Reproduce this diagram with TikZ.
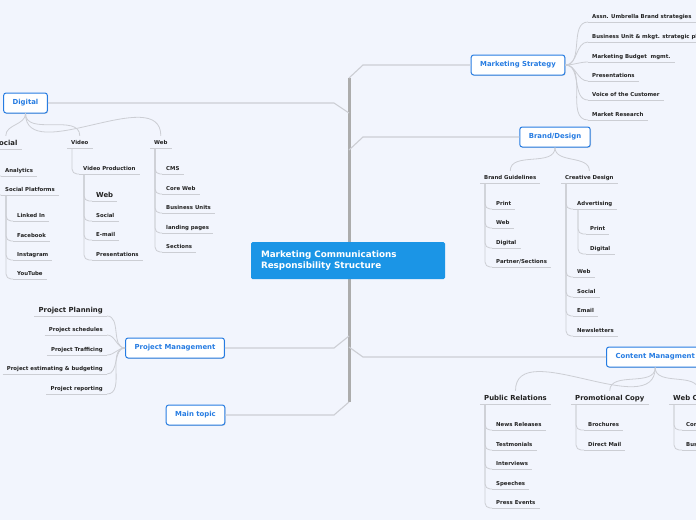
\documentclass[tikz,border=0pt]{standalone}
\usepackage{fontspec}
\setmainfont{DejaVu Sans}
\usetikzlibrary{shadows}
\definecolor{bgblue}{RGB}{242,245,253}
\definecolor{topicblue}{RGB}{38,124,226}
\definecolor{rootblue}{RGB}{27,149,230}
\definecolor{linegray}{RGB}{204,206,212}
\definecolor{spinegray}{RGB}{172,172,172}
\definecolor{ink}{RGB}{34,34,34}
\tikzset{
  topic/.style={draw=topicblue, line width=1pt, fill=white, rounded corners=2.5pt,
    text=topicblue, font=\fontsize{6.9}{8}\selectfont\bfseries, inner xsep=9pt,
    minimum height=20pt, drop shadow={shadow xshift=.8pt, shadow yshift=-.8pt, opacity=.25}},
  root/.style={fill=rootblue, rounded corners=1.5pt, text=white, align=left,
    font=\fontsize{8.8}{11}\selectfont\bfseries, text width=174pt, inner xsep=10pt,
    minimum height=37pt},
  leaf/.style={anchor=south west, text=ink, font=\fontsize{5.4}{6}\selectfont\bfseries,
    text depth=0pt, inner xsep=4pt, inner ysep=3.8pt,
    append after command={(\tikzlastnode.south west) edge[uline] (\tikzlastnode.south east)}},
  sub/.style={leaf, font=\fontsize{6.9}{8}\selectfont\bfseries},
  uline/.style={draw=linegray, line width=.8pt},
  conn/.style={draw=linegray, line width=.8pt, rounded corners=5pt},
  branch/.style={draw=linegray, line width=1.1pt},
  spine/.style={draw=spinegray, line width=3pt}
}
\begin{document}
\begin{tikzpicture}[x=1pt,y=-1pt]
\fill[bgblue] (0,0) rectangle (696,520);
\clip (0,0) rectangle (696,520);

% spine
\coordinate (b1) at (349,78);
\coordinate (b2) at (349,113);
\coordinate (b3) at (349,150);
\coordinate (b4) at (349,336);
\coordinate (b5) at (349,347);
\coordinate (b6) at (349,402);
\draw[spine] (b1) -- (b6);

% main topics
\node[topic] (ms) at (518,65) {Marketing Strategy};
\node[topic] (dg) at (25.5,103) {Digital};
\node[topic] (bd) at (555,137) {Brand/Design};
\node[topic] (pm) at (175,348) {Project Management};
\node[topic] (mt) at (195.5,415) {Main topic};
\node[topic, anchor=west] (cm) at (606,357) {Content Managment};

\draw[branch] (b1) -- ++(14,-13) -- (ms.west);
\draw[branch] (b2) -- ++(-15,-10) -- (dg.east);
\draw[branch] (b3) -- ++(14,-13) -- (bd.west);
\draw[branch] (b4) -- ++(-15,12) -- (pm.east);
\draw[branch] (b5) -- ++(14,10) -- (cm.west);
\draw[branch] (b6) -- ++(-15,13) -- (mt.east);

\node[root] (root) at (348,260.5) {Marketing Communications\\Responsibility Structure};

% marketing strategy
\node[leaf] (ms1) at (588,22) {Assn. Umbrella Brand strategies};
\node[leaf] (ms2) at (588,42) {Business Unit \& mkgt. strategic planning};
\node[leaf] (ms3) at (588,62) {Marketing Budget~ mgmt.};
\node[leaf] (ms4) at (588,81) {Presentations};
\node[leaf] (ms5) at (588,100) {Voice of the Customer};
\node[leaf] (ms6) at (588,120) {Market Research};
\foreach \n in {ms1,ms2,ms3,ms4,ms5,ms6}
  \draw[conn] (ms.east) to[out=0,in=180] (\n.south west);

% brand / design
\node[leaf] (bg) at (480,183) {Brand Guidelines};
\node[leaf] (bg1) at (492,209) {Print};
\node[leaf] (bg2) at (492,228) {Web};
\node[leaf] (bg3) at (492,248) {Digital};
\node[leaf] (bg4) at (492,267) {Partner/Sections};
\node[leaf] (cd) at (561,183) {Creative Design};
\node[leaf] (cd1) at (573,209) {Advertising};
\node[leaf] (cd1a) at (586,234) {Print};
\node[leaf] (cd1b) at (586,254) {Digital};
\node[leaf] (cd2) at (573,277) {Web};
\node[leaf] (cd3) at (573,297) {Social};
\node[leaf] (cd4) at (573,316) {Email};
\node[leaf] (cd5) at (573,336) {Newsletters};
\draw[conn] (bd.south) to[out=-90,in=90] (bg.north);
\draw[conn] (bd.south) to[out=-90,in=90] (cd.north);
\foreach \n in {bg1,bg2,bg3,bg4}
  \draw[conn] ([xshift=5pt]bg.south west) |- (\n.south west);
\foreach \n in {cd1,cd2,cd3,cd4,cd5}
  \draw[conn] ([xshift=5pt]cd.south west) |- (\n.south west);
\foreach \n in {cd1a,cd1b}
  \draw[conn] ([xshift=5pt]cd1.south west) |- (\n.south west);

% content managment
\node[sub] (pr) at (480,404) {Public Relations};
\node[leaf] (pr1) at (492,430) {News Releases};
\node[leaf] (pr2) at (492,450) {Testmonials};
\node[leaf] (pr3) at (492,469) {Interviews};
\node[leaf] (pr4) at (492,489) {Speeches};
\node[leaf] (pr5) at (492,508) {Press Events};
\node[sub] (pc) at (571,404) {Promotional Copy};
\node[leaf] (pc1) at (584,430) {Brochures};
\node[leaf] (pc2) at (584,450) {Direct Mail};
\node[sub] (wc) at (669,404) {Web Content};
\node[leaf] (wc1) at (682,430) {Corporate};
\node[leaf] (wc2) at (682,450) {Business Units};
\foreach \n in {pr,pc,wc}
  \draw[conn] (cm.south) to[out=-90,in=90] (\n.north);
\foreach \n in {pr1,pr2,pr3,pr4,pr5}
  \draw[conn] ([xshift=5pt]pr.south west) |- (\n.south west);
\foreach \n in {pc1,pc2}
  \draw[conn] ([xshift=5pt]pc.south west) |- (\n.south west);
\foreach \n in {wc1,wc2}
  \draw[conn] ([xshift=5pt]wc.south west) |- (\n.south west);

% project management
\node[sub, anchor=south east] (pm1) at (107,316) {Project Planning};
\node[leaf, anchor=south east] (pm2) at (107,335) {Project schedules};
\node[leaf, anchor=south east] (pm3) at (107,355) {Project Trafficing};
\node[leaf, anchor=south east] (pm4) at (107,374) {Project estimating \& budgeting};
\node[leaf, anchor=south east] (pm5) at (107,394) {Project reporting};
\foreach \n in {pm1,pm2,pm3,pm4,pm5}
  \draw[conn] (pm.west) to[out=180,in=0] (\n.south east);

% digital
\node[sub] (so) at (-10,149) {Social};
\node[leaf] (so1) at (1,176) {Analytics};
\node[leaf] (so2) at (1,195) {Social Platforms};
\node[leaf] (so2a) at (13,221) {Linked In};
\node[leaf] (so2b) at (13,241) {Facebook};
\node[leaf] (so2c) at (13,260) {Instagram};
\node[leaf] (so2d) at (13,279) {YouTube};
\node[leaf] (vi) at (67,148) {Video};
\node[leaf] (vp) at (79,174) {Video Production};
\node[sub] (vp1) at (92,201) {Web};
\node[leaf] (vp2) at (92,221) {Social};
\node[leaf] (vp3) at (92,240) {E-mail};
\node[leaf] (vp4) at (92,260) {Presentations};
\node[leaf] (we) at (150,148) {Web};
\node[leaf] (we1) at (162,174) {CMS};
\node[leaf] (we2) at (162,194) {Core Web};
\node[leaf] (we3) at (162,213) {Business Units};
\node[leaf] (we4) at (162,233) {landing pages};
\node[leaf] (we5) at (162,252) {Sections};
\foreach \n in {so,vi,we}
  \draw[conn] (dg.south) to[out=-90,in=90] (\n.north);
\foreach \n in {so1,so2}
  \draw[conn] ([xshift=5pt]so.south west) |- (\n.south west);
\foreach \n in {so2a,so2b,so2c,so2d}
  \draw[conn] ([xshift=5pt]so2.south west) |- (\n.south west);
\draw[conn] ([xshift=5pt]vi.south west) |- (vp.south west);
\foreach \n in {vp1,vp2,vp3,vp4}
  \draw[conn] ([xshift=5pt]vp.south west) |- (\n.south west);
\foreach \n in {we1,we2,we3,we4,we5}
  \draw[conn] ([xshift=5pt]we.south west) |- (\n.south west);
\end{tikzpicture}
\end{document}
